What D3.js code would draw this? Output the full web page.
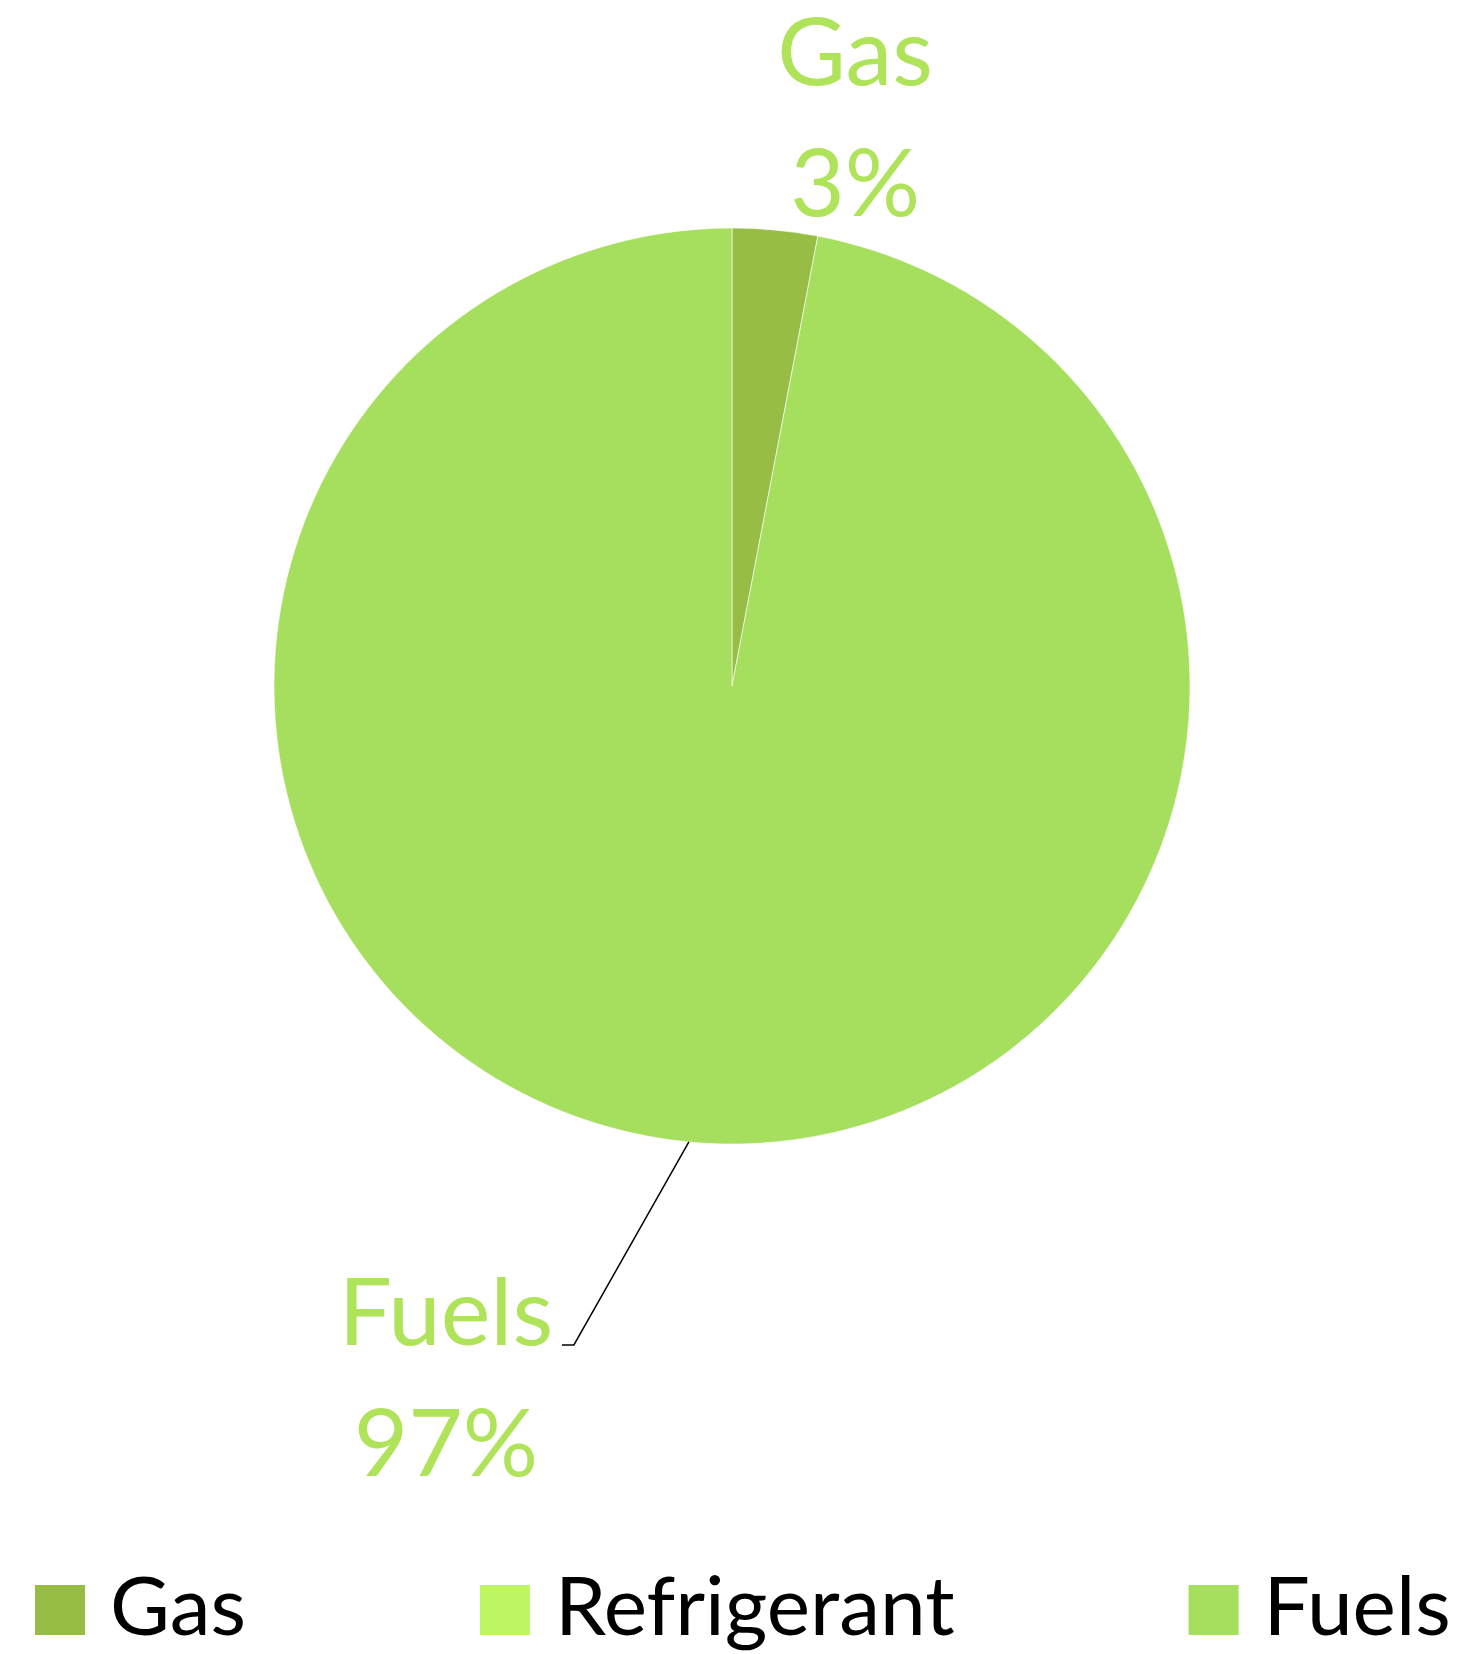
<!DOCTYPE html>
<html>
<head>
<meta charset="utf-8">
<script src="https://cdn.jsdelivr.net/npm/d3@7"></script>
<style>
	html, body { margin: 0; padding: 0; background: #fff; }
	svg { display: block; }
</style>
</head>
<body>
<div id="chart"></div>
<script>
// chart data
const categories = [ 'Gas', 'Refrigerant', 'Fuels' ],
	values = [ 3, 0, 97 ],
	colors = [ '#98bd45', '#bef661', '#a6de5e' ];

const width = 1475,
	height = 1654,
	cx = 732,
	cy = 686,
	radius = 458,
	labelColor = '#aee35a',
	font = 'Lato, "Open Sans", sans-serif';

const svg = d3.select( '#chart' )
	.append( 'svg' )
	.attr( 'width', width )
	.attr( 'height', height );

const total = d3.sum( values ),
	pie = d3.pie().sort( null ).value( d => d.value ),
	arc = d3.arc().innerRadius( 0 ).outerRadius( radius ),
	rows = categories.map( ( c, i ) => ( { name: c, value: values[i], color: colors[i] } ) ),
	arcs = pie( rows );

const g = svg.append( 'g' ).attr( 'transform', `translate(${cx},${cy})` );

// slices
g.selectAll( 'path.slice' )
	.data( arcs.filter( d => d.data.value > 0 ) )
	.enter()
	.append( 'path' )
	.attr( 'class', 'slice' )
	.attr( 'd', arc )
	.attr( 'fill', d => d.data.color )
	.attr( 'stroke', '#fff' )
	.attr( 'stroke-opacity', 0.6 )
	.attr( 'stroke-width', 1 );

// 某点在饼外圈上的位置
function outerPoint( d ){
	let a = ( d.startAngle + d.endAngle ) / 2;
	return [ Math.sin( a ) * radius, -Math.cos( a ) * radius ];
}

// 标签的偏移（布局，相对于外圈中点）
const labelOffset = {
	Gas: { dx: 80, dy: -145, leader: false },
	Fuels: { dx: -243, dy: 203, leader: true }
};

arcs.filter( d => d.data.value > 0 ).forEach( d => {
	let [ px, py ] = outerPoint( d ),
		off = labelOffset[ d.data.name ],
		lx = px + off.dx,
		ly = py + off.dy,
		pct = Math.round( d.data.value / total * 100 ) + '%';

	if( off.leader ){
		let ex = px - 115,
			ey = py + 203;
		g.append( 'polyline' )
			.attr( 'points', `${px},${py} ${ex},${ey} ${ex - 12},${ey}` )
			.attr( 'fill', 'none' )
			.attr( 'stroke', '#000' )
			.attr( 'stroke-width', 1.5 );
	}

	let t = g.append( 'text' )
		.attr( 'fill', labelColor )
		.attr( 'font-family', font )
		.attr( 'font-size', '94px' )
		.attr( 'text-anchor', 'middle' );
	t.append( 'tspan' ).attr( 'x', lx ).attr( 'y', ly ).text( d.data.name );
	t.append( 'tspan' ).attr( 'x', lx ).attr( 'y', ly + 131 ).text( pct );
} );

// legend
const legend = svg.append( 'g' ).attr( 'class', 'legend' ),
	legendY = 1635,
	box = 50,
	boxGap = 25,
	itemGap = 234;

let x = 35;
rows.forEach( r => {
	legend.append( 'rect' )
		.attr( 'x', x )
		.attr( 'y', legendY - box )
		.attr( 'width', box )
		.attr( 'height', box )
		.attr( 'fill', r.color );
	let t = legend.append( 'text' )
		.attr( 'x', x + box + boxGap )
		.attr( 'y', legendY )
		.attr( 'fill', '#000' )
		.attr( 'font-family', font )
		.attr( 'font-size', '82px' )
		.text( r.name );
	x = x + box + boxGap + t.node().getComputedTextLength() + itemGap;
} );
</script>
</body>
</html>
